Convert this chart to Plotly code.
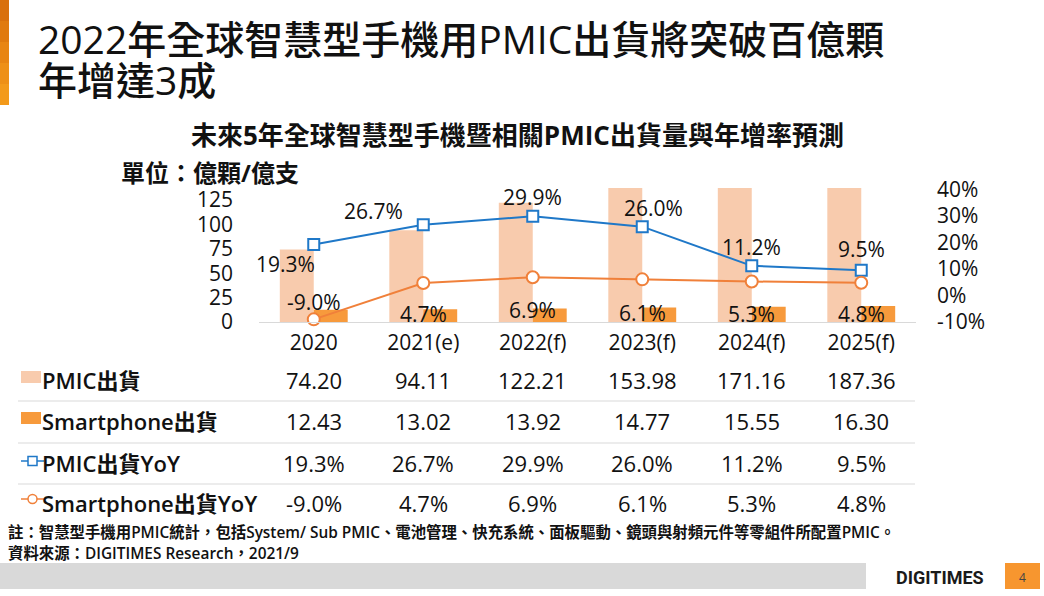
import plotly.graph_objects as go

# ---------------- data ----------------
categories = ["2020", "2021(e)", "2022(f)", "2023(f)", "2024(f)", "2025(f)"]
pmic_ship = [74.20, 94.11, 122.21, 153.98, 171.16, 187.36]
phone_ship = [12.43, 13.02, 13.92, 14.77, 15.55, 16.30]
pmic_yoy = [19.3, 26.7, 29.9, 26.0, 11.2, 9.5]
phone_yoy = [-9.0, 4.7, 6.9, 6.1, 5.3, 4.8]

left_ticks = [0, 25, 50, 75, 100, 125]
right_ticks = [-10, 0, 10, 20, 30, 40]
row_labels = ["PMIC出貨", "Smartphone出貨", "PMIC出貨YoY", "Smartphone出貨YoY"]

# label offsets (pixels) for data labels
pmic_lbl_dx = [-28, -50, 0, 11, 0, 0]
pmic_lbl_dy = [-20, 14, 19, 19, 19, 21]
phone_lbl_dy = [20, 8, 12, 9, 8, 8]

# ---------------- style ----------------
FONT = "Open Sans, Noto Sans CJK TC, sans-serif"
C_PMIC = "#F8CBAD"
C_PHONE = "#F79A3C"
C_BLUE = "#1F78C8"
C_ORANGE = "#F0803A"
TXT = "#111111"

W, H = 1044, 596
L, R, T, B = 259, 916, 188, 322


def px(x):
    return (x - L) / (R - L)


def py(y):
    return (B - y) / (B - T)


idx = list(range(len(categories)))

fig = go.Figure()

fig.add_trace(go.Bar(x=idx, y=pmic_ship, name="PMIC出貨",
                     marker=dict(color=C_PMIC, line=dict(width=0)),
                     yaxis="y", offsetgroup="a"))
fig.add_trace(go.Bar(x=idx, y=phone_ship, name="Smartphone出貨",
                     marker=dict(color=C_PHONE, line=dict(width=0)),
                     yaxis="y", offsetgroup="b"))
fig.add_trace(go.Scatter(x=idx, y=pmic_yoy, name="PMIC出貨YoY", yaxis="y2",
                         mode="lines+markers",
                         line=dict(color=C_BLUE, width=2),
                         marker=dict(symbol="square", size=11, color="white",
                                     line=dict(color=C_BLUE, width=2)),
                         cliponaxis=False))
fig.add_trace(go.Scatter(x=idx, y=phone_yoy, name="Smartphone出貨YoY", yaxis="y2",
                         mode="lines+markers",
                         line=dict(color=C_ORANGE, width=2),
                         marker=dict(symbol="circle", size=12, color="white",
                                     line=dict(color=C_ORANGE, width=2)),
                         cliponaxis=False))

ann = []
shapes = []

# data labels
for i in idx:
    ann.append(dict(x=i, y=pmic_yoy[i], xref="x", yref="y2", text=f"{pmic_yoy[i]:.1f}%",
                    showarrow=False, xshift=pmic_lbl_dx[i], yshift=pmic_lbl_dy[i],
                    font=dict(family=FONT, size=21, color=TXT)))
    ann.append(dict(x=i, y=0, xref="x", yref="y", text=f"{phone_yoy[i]:.1f}%",
                    showarrow=False, yanchor="middle", yshift=phone_lbl_dy[i],
                    font=dict(family=FONT, size=21, color=TXT)))

# table rows
row_y = [380, 421, 463, 503]
row_vals = [
    [f"{v:.2f}" for v in pmic_ship],
    [f"{v:.2f}" for v in phone_ship],
    [f"{v:.1f}%" for v in pmic_yoy],
    [f"{v:.1f}%" for v in phone_yoy],
]
for r, (lab, vals) in enumerate(zip(row_labels, row_vals)):
    ann.append(dict(x=px(40), y=py(row_y[r]), xref="paper", yref="paper", text=lab,
                    showarrow=False, xanchor="left", yanchor="middle",
                    font=dict(family=FONT, size=22, color=TXT, weight=600)))
    for i in idx:
        ann.append(dict(x=i, y=py(row_y[r]), xref="x", yref="paper", text=vals[i],
                        showarrow=False, xanchor="center", yanchor="middle",
                        font=dict(family=FONT, size=22, color=TXT)))

# separators
for sy in [401, 443, 484]:
    shapes.append(dict(type="line", xref="paper", yref="paper", x0=px(18), x1=px(915),
                       y0=py(sy), y1=py(sy), line=dict(color="#D9D9D9", width=1)))

# legend icons
shapes.append(dict(type="rect", xref="paper", yref="paper", x0=px(21), x1=px(41),
                   y0=py(383), y1=py(371), fillcolor=C_PMIC, line=dict(width=0)))
shapes.append(dict(type="rect", xref="paper", yref="paper", x0=px(21), x1=px(41),
                   y0=py(424), y1=py(412), fillcolor=C_PHONE, line=dict(width=0)))
shapes.append(dict(type="line", xref="paper", yref="paper", x0=px(21), x1=px(44),
                   y0=py(461), y1=py(461), line=dict(color=C_BLUE, width=1.5)))
shapes.append(dict(type="rect", xref="paper", yref="paper", x0=px(28), x1=px(37),
                   y0=py(465.5), y1=py(456.5), fillcolor="white",
                   line=dict(color=C_BLUE, width=1.5)))
shapes.append(dict(type="line", xref="paper", yref="paper", x0=px(21), x1=px(44),
                   y0=py(499), y1=py(499), line=dict(color=C_ORANGE, width=1.5)))
shapes.append(dict(type="circle", xref="paper", yref="paper", x0=px(28), x1=px(37),
                   y0=py(503.5), y1=py(494.5), fillcolor="white",
                   line=dict(color=C_ORANGE, width=1.5)))

# left accent bar (gradient imitation)
grad = ["#D9700C", "#E07A0E", "#E88512", "#EE9016", "#F39A1A"]
for k, col in enumerate(grad):
    shapes.append(dict(type="rect", xref="paper", yref="paper",
                       x0=px(0), x1=px(9), y0=py(21 * (k + 1)), y1=py(21 * k),
                       fillcolor=col, line=dict(width=0), layer="below"))

# footer
shapes.append(dict(type="rect", xref="paper", yref="paper", x0=px(0), x1=px(866),
                   y0=py(589), y1=py(563), fillcolor="#D9D9D9", line=dict(width=0)))
shapes.append(dict(type="rect", xref="paper", yref="paper", x0=px(1005), x1=px(1040),
                   y0=py(589), y1=py(563), fillcolor="#F7962F", line=dict(width=0)))

# titles / notes
ann.append(dict(x=px(36), y=py(38), xref="paper", yref="paper", xanchor="left", yanchor="middle",
                text="2022年全球智慧型手機用PMIC出貨將突破百億顆", showarrow=False,
                font=dict(family=FONT, size=39, color=TXT, weight=500)))
ann.append(dict(x=px(36), y=py(80), xref="paper", yref="paper", xanchor="left", yanchor="middle",
                text="年增達3成", showarrow=False,
                font=dict(family=FONT, size=39, color=TXT, weight=500)))
ann.append(dict(x=px(517), y=py(135), xref="paper", yref="paper", xanchor="center", yanchor="middle",
                text="未來5年全球智慧型手機暨相關PMIC出貨量與年增率預測", showarrow=False,
                font=dict(family=FONT, size=26, color=TXT, weight="bold")))
ann.append(dict(x=px(119), y=py(172), xref="paper", yref="paper", xanchor="left", yanchor="middle",
                text="單位：億顆/億支", showarrow=False,
                font=dict(family=FONT, size=24, color=TXT, weight="bold")))
ann.append(dict(x=px(6), y=py(532), xref="paper", yref="paper", xanchor="left", yanchor="middle",
                text="註：智慧型手機用PMIC統計，包括System/ Sub PMIC、電池管理、快充系統、面板驅動、鏡頭與射頻元件等零組件所配置PMIC。",
                showarrow=False, font=dict(family=FONT, size=15.4, color=TXT, weight=600)))
ann.append(dict(x=px(6), y=py(553), xref="paper", yref="paper", xanchor="left", yanchor="middle",
                text="資料來源：DIGITIMES Research，2021/9",
                showarrow=False, font=dict(family=FONT, size=15.4, color=TXT, weight=600)))
ann.append(dict(x=px(940), y=py(577), xref="paper", yref="paper", xanchor="center", yanchor="middle",
                text="<b>DIGITIMES</b>", showarrow=False,
                font=dict(family="Roboto, Open Sans, sans-serif", size=18, color="#1A1A1A")))
ann.append(dict(x=px(1022), y=py(577), xref="paper", yref="paper", xanchor="center", yanchor="middle",
                text="4", showarrow=False,
                font=dict(family=FONT, size=12, color="#444444")))

fig.update_layout(
    width=W, height=H,
    margin=dict(l=L, r=W - R, t=T, b=H - B, pad=0),
    paper_bgcolor="white", plot_bgcolor="white",
    barmode="group", bargap=0.38, bargroupgap=0,
    showlegend=False,
    font=dict(family=FONT, size=21, color=TXT),
    xaxis=dict(range=[-0.5, len(categories) - 0.5], tickvals=idx, ticktext=categories,
               showline=True, linecolor="#D9D9D9", linewidth=1, zeroline=False,
               showgrid=False, ticks="", tickfont=dict(family=FONT, size=21, color=TXT),
               ticklabelstandoff=2),
    yaxis=dict(range=[0, 137.3], tickvals=left_ticks, showgrid=False, zeroline=False,
               showline=False, ticks="", tickfont=dict(family=FONT, size=21, color=TXT),
               ticklabelstandoff=25),
    yaxis2=dict(range=[-10, 40.6], tickvals=right_ticks, ticktext=[f"{v}%" for v in right_ticks],
                overlaying="y", side="right", showgrid=False, zeroline=False, showline=False,
                ticks="", tickfont=dict(family=FONT, size=21, color=TXT), ticklabelstandoff=20),
    annotations=ann,
    shapes=shapes,
)

fig.write_html("out.html", config={"displayModeBar": False},
               post_script="document.body.style.margin='0';document.body.style.overflow='hidden';")
